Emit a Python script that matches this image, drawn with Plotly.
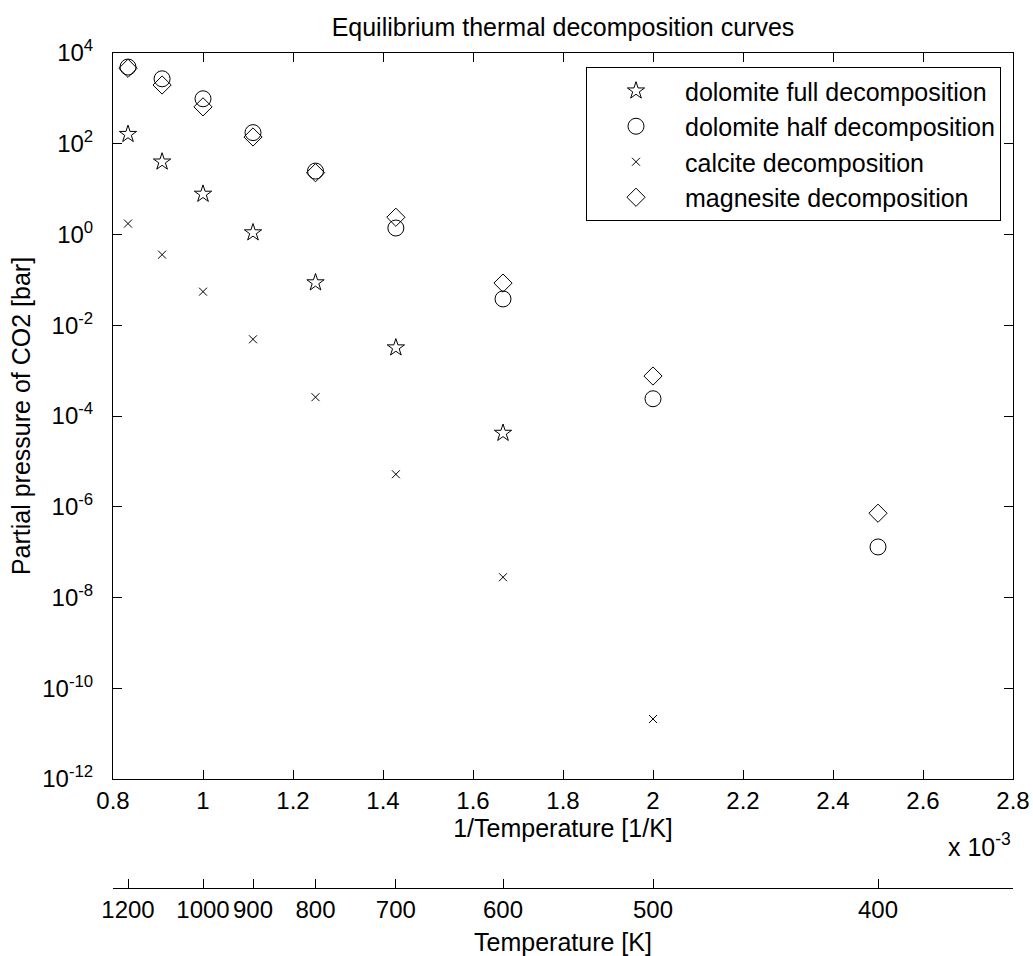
import plotly.graph_objects as go

# ---------------- data ----------------
temps_K = [1200, 1100, 1000, 900, 800, 700, 600, 500, 400]
dolomite_full = [162, 40, 7.8, 1.1, 0.087, 3.2e-3, 4.2e-5, None, None]
dolomite_half = [4900, 2700, 980, 176, 25, 1.39, 0.038, 2.4e-4, 1.3e-7]
calcite = [1.74, 0.36, 0.055, 4.9e-3, 2.6e-4, 5.2e-6, 2.8e-8, 2.1e-11, None]
magnesite = [4600, 1970, 650, 141, 23, 2.4, 0.085, 7.6e-4, 7.2e-7]

y_tick_exps = [4, 2, 0, -2, -4, -6, -8, -10, -12]
x_ticks = [0.8, 1.0, 1.2, 1.4, 1.6, 1.8, 2.0, 2.2, 2.4, 2.6, 2.8]
x_tick_text = ["0.8", "1", "1.2", "1.4", "1.6", "1.8", "2", "2.2", "2.4", "2.6", "2.8"]
sec_tick_temps = [1250, 1200, 1000, 900, 800, 700, 600, 500, 400]
sec_tick_text = ["", "1200", "1000", "900", "800", "700", "600", "500", "400"]

inv_T = [1000.0 / t for t in temps_K]  # in units of 1e-3 1/K

FONT = "Liberation Sans, Arial, sans-serif"

fig = go.Figure()

series = [
    ("dolomite full decomposition", dolomite_full, "star-open", 13),
    ("dolomite half decomposition", dolomite_half, "circle-open", 16),
    ("calcite decomposition", calcite, "x-thin-open", 8),
    ("magnesite decomposition", magnesite, "diamond-open", 14),
]
for name, vals, sym, size in series:
    fig.add_trace(go.Scatter(
        x=inv_T, y=vals, mode="markers", name=name,
        marker=dict(symbol=sym, size=size, color="black",
                    line=dict(color="black", width=1)),
    ))

# empty trace to make secondary axis subplot
fig.add_trace(go.Scatter(x=[], y=[], xaxis="x2", yaxis="y2", showlegend=False))

H = 956
top = 53
sec_line = 888
main_bottom = 779
paper_h = sec_line - top
y_dom0 = (sec_line - main_bottom) / paper_h
left, right = 113, 1013
paper_w = right - left

axis_common = dict(showline=True, linecolor="black", linewidth=1,
                   ticks="inside", ticklen=9, tickcolor="black",
                   showgrid=False, zeroline=False, automargin=False,
                   tickfont=dict(family=FONT, size=24, color="black"))

fig.update_layout(
    width=1033, height=H,
    margin=dict(l=left, r=1033 - right, t=top, b=H - sec_line),
    paper_bgcolor="white", plot_bgcolor="white",
    font=dict(family=FONT, size=25, color="black"),
    title=dict(text="Equilibrium thermal decomposition curves",
               x=0.5, xref="paper", xanchor="center",
               y=1 - 27 / H, yanchor="middle",
               font=dict(family=FONT, size=25, color="black")),
    xaxis=dict(range=[0.8, 2.8], tickvals=x_ticks, ticktext=x_tick_text,
               mirror="ticks", anchor="y",
               title=dict(text="1/Temperature [1/K]", standoff=3,
                          font=dict(family=FONT, size=25)),
               **axis_common),
    yaxis=dict(type="log", range=[-12, 4], domain=[y_dom0, 1],
               tickvals=[10 ** e for e in y_tick_exps],
               ticktext=["10<sup>%d</sup>" % e for e in y_tick_exps],
               mirror="ticks", ticklabelstandoff=14,
               title=dict(text="Partial pressure of CO2 [bar]", standoff=4,
                          font=dict(family=FONT, size=25)),
               **axis_common),
    xaxis2=dict(range=[0.8, 2.8], anchor="y2",
                tickvals=[1000.0 / t for t in sec_tick_temps],
                ticktext=sec_tick_text,
                title=dict(text="Temperature [K]", standoff=12,
                           font=dict(family=FONT, size=25)),
                **axis_common),
    yaxis2=dict(domain=[0, 0.0005], visible=False, range=[0, 1]),
    legend=dict(x=(1001 - left) / paper_w, xanchor="right",
                y=(sec_line - 67) / paper_h, yanchor="top",
                bordercolor="black", borderwidth=1, bgcolor="white",
                font=dict(family=FONT, size=25, color="black"),
                itemwidth=88, entrywidth=322, entrywidthmode="pixels",
                tracegroupgap=0),
    annotations=[dict(text="x 10<sup>-3</sup>", xref="paper", yref="paper",
                      x=1.0, xanchor="right",
                      y=(sec_line - 845) / paper_h, yanchor="middle",
                      showarrow=False,
                      font=dict(family=FONT, size=25, color="black"))],
    showlegend=True,
)

fig.write_html("out.html")
